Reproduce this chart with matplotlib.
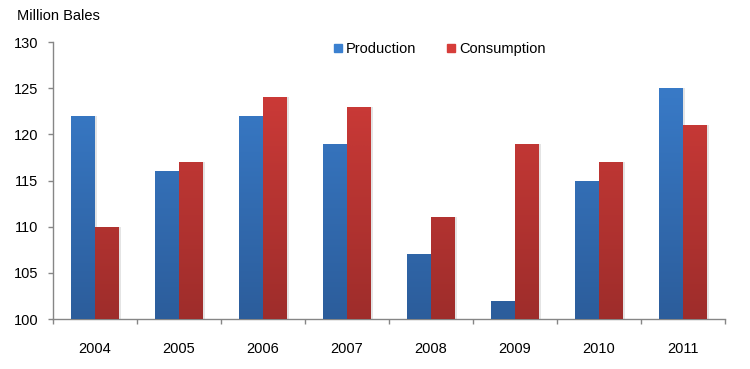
import matplotlib.pyplot as plt
import matplotlib.colors as mcolors
from matplotlib.lines import Line2D
import numpy as np

years = ["2004", "2005", "2006", "2007", "2008", "2009", "2010", "2011"]
production = [122, 116, 122, 119, 107, 102, 115, 125]
consumption = [110, 117, 124, 123, 111, 119, 117, 121]

plt.rcParams['font.family'] = ['Liberation Sans', 'DejaVu Sans']

blue_top, blue_bot = "#3b80d0", "#2c5d9b"
red_top, red_bot = "#d63d3a", "#9e2d2b"

fig = plt.figure(figsize=(7.5, 3.69), dpi=100)
ax = fig.add_axes([53/750, 50/369, 672/750, 277/369])

x = np.arange(len(years))
w = 24/84


def grad_bars(xs, vals, top, bot):
    bars = ax.bar(xs, np.array(vals) - 100, width=w, bottom=100, color=top, zorder=2)
    cmap = mcolors.LinearSegmentedColormap.from_list("g", [bot, top])
    grad = np.linspace(0, 1, 256).reshape(-1, 1)
    for b in bars:
        bx, by = b.get_x(), b.get_y()
        bw, bh = b.get_width(), b.get_height()
        # soft shadow
        ax.bar(bx + bw/2 + 0.02, bh, width=bw, bottom=by, color="#e4e4e4", zorder=1)
        im = ax.imshow(grad, extent=[bx, bx + bw, 100, 130], origin="lower",
                       cmap=cmap, aspect="auto", zorder=3, interpolation="bicubic")
        im.set_clip_path(b)
    return bars


grad_bars(x - w/2, production, blue_top, blue_bot)
grad_bars(x + w/2, consumption, red_top, red_bot)

ax.set_xlim(-0.5, len(years) - 0.5)
ax.set_ylim(100, 130)
ax.set_yticks(range(100, 131, 5))
ax.set_xticks(np.arange(-0.5, len(years), 1))
ax.set_xticklabels([])
ax.set_xticks(x, minor=True)
ax.set_xticklabels(years, minor=True)
ax.tick_params(axis="x", which="minor", length=0, pad=16.5, labelsize=10.5)
ax.tick_params(axis="x", which="major", length=3.6, color="#868686", width=1)
ax.tick_params(axis="y", length=3.6, color="#868686", width=1, pad=7, labelsize=10.5)

for s in ["top", "right"]:
    ax.spines[s].set_visible(False)
for s in ["left", "bottom"]:
    ax.spines[s].set_color("#868686")
    ax.spines[s].set_linewidth(1)

fig.text(17/750, 1 - 16/369, "Million Bales", fontsize=10.5, va="center", ha="left")

handles = [Line2D([], [], marker="s", linestyle="", markersize=6, color=blue_top),
           Line2D([], [], marker="s", linestyle="", markersize=6, color=red_top)]
fig.legend(handles, ["Production", "Consumption"], loc="center",
           bbox_to_anchor=(438/750, 1 - 49/369), ncol=2, frameon=False,
           fontsize=10.5, handletextpad=0.05, columnspacing=1.9, handlelength=1.0)

fig.savefig("out.png", dpi=100)
